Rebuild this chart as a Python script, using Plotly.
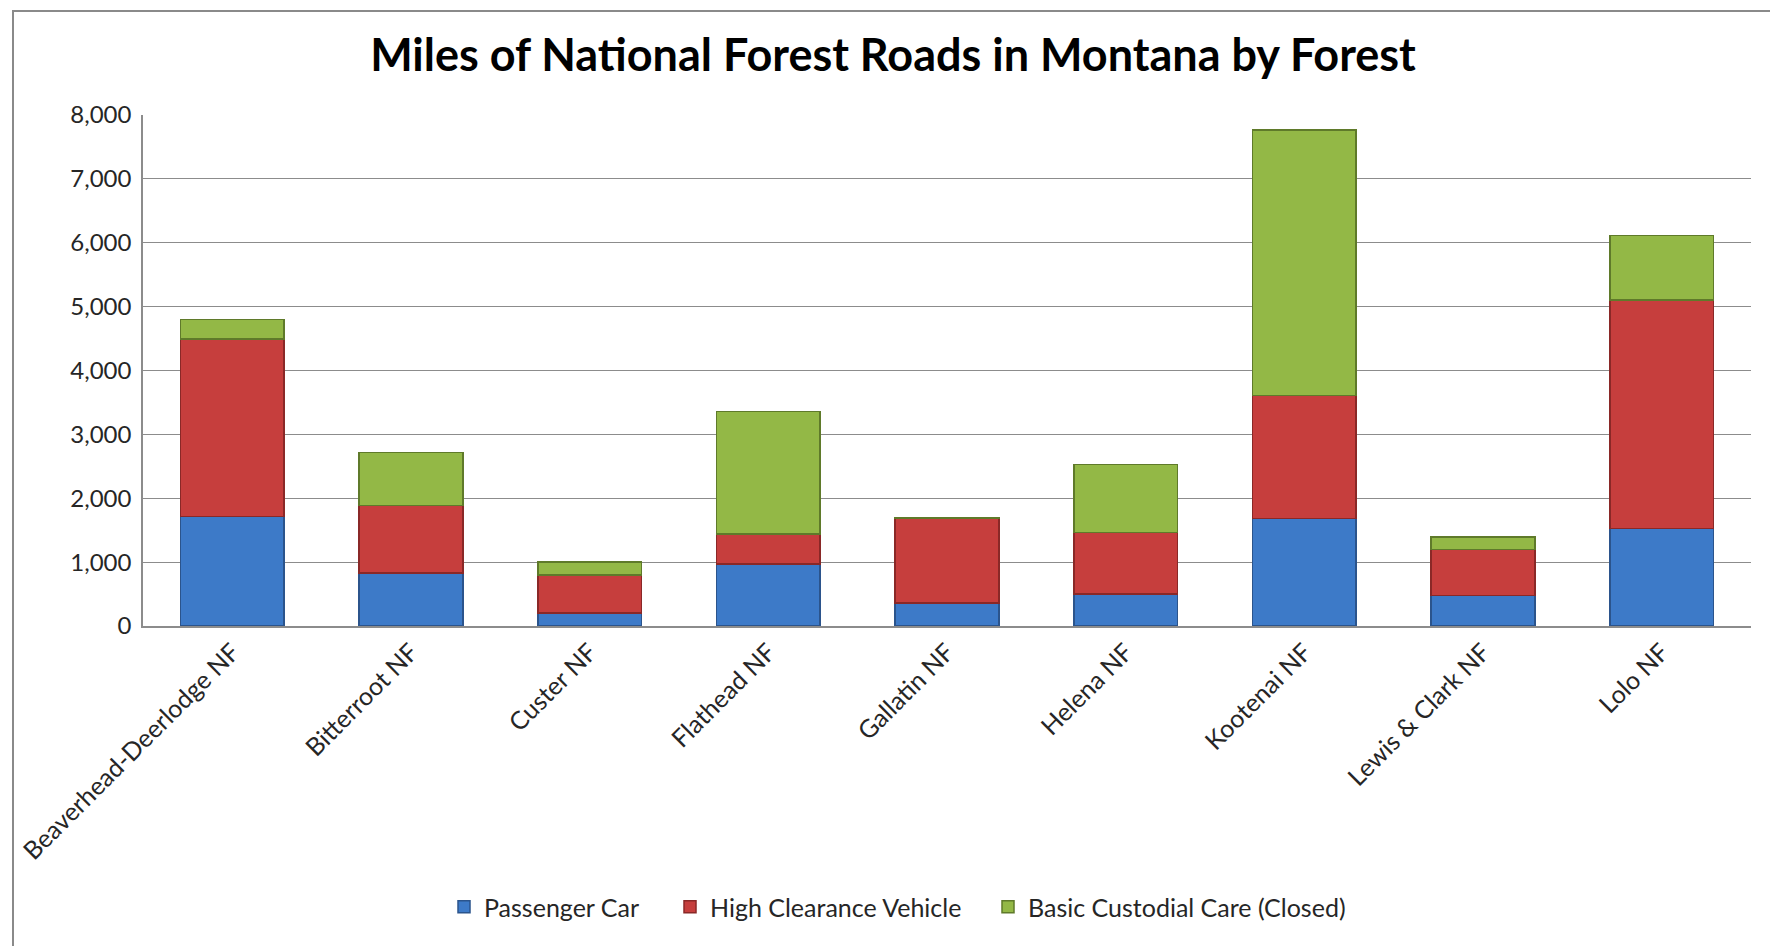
import plotly.graph_objects as go

forests = [
    "Beaverhead-Deerlodge NF", "Bitterroot NF", "Custer NF", "Flathead NF",
    "Gallatin NF", "Helena NF", "Kootenai NF", "Lewis & Clark NF", "Lolo NF",
]
passenger_car = [1717, 830, 200, 970, 360, 500, 1680, 475, 1530]
high_clearance = [2773, 1060, 600, 470, 1320, 960, 1930, 725, 3570]
custodial_closed = [310, 830, 200, 1920, 15, 1070, 4155, 190, 1010]

series = [
    ("Passenger Car", passenger_car, "#3d7ac8", "#2b548c"),
    ("High Clearance Vehicle", high_clearance, "#c63e3d", "#8a2827"),
    ("Basic Custodial Care (Closed)", custodial_closed, "#93b846", "#5f7a2a"),
]

W, H = 1778, 946
ML, MR, MT, MB = 135, 35, 107, 328
pw, ph = W - ML - MR, H - MT - MB

# left edge (page px) of each legend entry
legend_px = [436, 662, 980]

fig = go.Figure()
for i, (name, vals, color, edge) in enumerate(series):
    lg = "legend" if i == 0 else f"legend{i + 1}"
    fig.add_trace(go.Bar(
        x=forests, y=vals, name=name, legend=lg, showlegend=True,
        marker=dict(color=color, line=dict(color=edge, width=1.5)),
    ))

# outer chart frame, converted from page pixels to paper units
fig.add_shape(
    type="rect", xref="paper", yref="paper", layer="below",
    x0=(5 - ML) / pw, x1=(W - 2 - ML) / pw,
    y0=(H - MB - 944) / ph, y1=(H - MB - 3) / ph,
    line=dict(color="#8a8a8a", width=2),
)

legend_style = dict(
    orientation="h", xanchor="left", y=-0.55, yanchor="middle",
    font=dict(size=25, color="#262626"), itemwidth=30,
)
legends = {}
for i, px in enumerate(legend_px):
    key = "legend" if i == 0 else f"legend{i + 1}"
    legends[key] = dict(legend_style, x=(px - ML) / pw)

fig.update_layout(
    width=W, height=H, showlegend=True,
    barmode="stack", bargap=0.42,
    plot_bgcolor="white", paper_bgcolor="white",
    margin=dict(l=ML, r=MR, t=MT, b=MB),
    font=dict(family="Lato", size=24, color="#262626"),
    title=dict(
        text="<b>Miles of National Forest Roads in Montana by Forest</b>",
        x=(885 - ML) / pw, xref="paper", xanchor="center", y=0.95, yanchor="middle",
        font=dict(family="Lato", size=45, color="black"),
    ),
    xaxis=dict(
        tickangle=-45, showline=True, linecolor="#8c8c8c", linewidth=1.5,
        ticks="", showgrid=False, tickfont=dict(size=25), automargin=False,
    ),
    yaxis=dict(
        range=[0, 8000], dtick=1000, tickformat=",d",
        showgrid=True, gridcolor="#8c8c8c", gridwidth=1.2,
        showline=True, linecolor="#8c8c8c", linewidth=1.5,
        ticks="outside", ticklen=5, tickcolor="white",
        tickfont=dict(size=24), zeroline=False, automargin=False,
    ),
    **legends,
)

fig.write_html("out.html")
